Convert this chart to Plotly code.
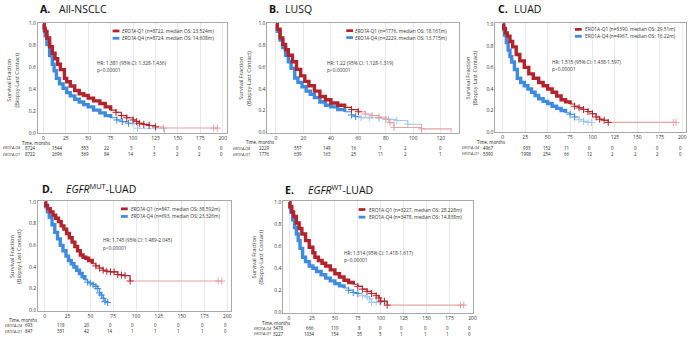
import plotly.graph_objects as go

W, H = 691, 340

# ---------------- data ----------------
# Panel A: All-NSCLC
A_q1_t = [0, 1, 2, 4, 7, 10, 13, 16, 19, 23.5, 26, 30, 35, 40, 45, 50, 56, 63, 69, 75, 81, 87, 93, 100, 104, 107, 112, 118, 125, 134, 190, 194]
A_q1_s = [1.0, 0.96, 0.93, 0.87, 0.79, 0.73, 0.68, 0.63, 0.58, 0.50, 0.47, 0.43, 0.39, 0.36, 0.345, 0.32, 0.295, 0.27, 0.24, 0.21, 0.19, 0.16, 0.14, 0.12, 0.105, 0.09, 0.08, 0.07, 0.057, 0.046, 0.046, 0.046]
A_q4_t = [0, 1, 2, 4, 7, 10, 12, 14.6, 18, 22, 26, 30, 35, 40, 45, 50, 56, 63, 69, 75, 82, 88, 95, 100, 105, 135]
A_q4_s = [1.0, 0.94, 0.89, 0.81, 0.71, 0.63, 0.57, 0.50, 0.45, 0.41, 0.37, 0.34, 0.31, 0.285, 0.26, 0.24, 0.21, 0.185, 0.16, 0.14, 0.12, 0.105, 0.09, 0.085, 0.045, 0.0]
A_ticks = [0, 25, 50, 75, 100, 125, 150, 175, 200]
A_risk_q4 = [8724, 1544, 353, 22, 3, 1, 0, 0, 0]
A_risk_q1 = [8722, 2696, 369, 84, 14, 3, 2, 2, 0]

# Panel B: LUSQ
B_q1_t = [0, 1, 3, 5, 7, 9, 12, 15, 18, 21, 24, 28, 32, 36, 40, 45, 50, 55, 60, 65, 70, 75, 80, 83, 86, 106, 127.5]
B_q1_s = [1.0, 0.95, 0.87, 0.81, 0.76, 0.71, 0.65, 0.58, 0.52, 0.47, 0.43, 0.38, 0.33, 0.30, 0.27, 0.25, 0.23, 0.21, 0.19, 0.17, 0.155, 0.14, 0.12, 0.09, 0.045, 0.033, 0.0]
B_q4_t = [0, 1, 3, 5, 7, 9, 11, 13.7, 16, 19, 22, 25, 28, 32, 36, 40, 45, 50, 55, 58, 62, 68, 75, 82, 88, 96, 106]
B_q4_s = [1.0, 0.93, 0.85, 0.78, 0.71, 0.65, 0.59, 0.50, 0.46, 0.42, 0.38, 0.35, 0.32, 0.28, 0.25, 0.235, 0.21, 0.19, 0.16, 0.145, 0.135, 0.135, 0.13, 0.12, 0.11, 0.075, 0.0]
B_ticks = [0, 20, 40, 60, 80, 100, 120]
B_risk_q4 = [2229, 557, 149, 16, 7, 2, 0]
B_risk_q1 = [1776, 639, 163, 25, 11, 2, 1]

# Panel C: LUAD
C_q1_t = [0, 1, 3, 5, 8, 11, 15, 19, 24, 29, 34, 40, 45, 50, 55, 60, 65, 70, 75, 80, 85, 90, 95, 100, 104, 108, 113, 117.5, 190, 193]
C_q1_s = [1.0, 0.96, 0.92, 0.89, 0.84, 0.79, 0.72, 0.66, 0.60, 0.54, 0.50, 0.46, 0.43, 0.40, 0.37, 0.335, 0.30, 0.28, 0.26, 0.24, 0.225, 0.21, 0.19, 0.17, 0.14, 0.12, 0.11, 0.09, 0.09, 0.09]
C_q4_t = [0, 1, 2, 4, 6, 8, 10, 13, 16.2, 20, 24, 28, 32, 36, 40, 45, 50, 55, 60, 65, 70, 75, 80, 85, 90, 95, 99]
C_q4_s = [1.0, 0.95, 0.90, 0.83, 0.76, 0.70, 0.65, 0.58, 0.50, 0.46, 0.43, 0.40, 0.37, 0.34, 0.31, 0.285, 0.265, 0.24, 0.22, 0.20, 0.18, 0.165, 0.14, 0.115, 0.10, 0.09, 0.09]
C_ticks = [0, 25, 50, 75, 100, 125, 150, 175, 200]
C_risk_q4 = [4967, 933, 152, 11, 0, 0, 0, 0, 0]
C_risk_q1 = [5390, 1998, 254, 66, 12, 2, 2, 2, 0]

# Panel D: EGFR-MUT LUAD
D_q1_t = [0, 1, 3, 6, 9, 12, 15, 18, 21, 24, 27, 30, 33, 36, 39, 42, 45, 48, 52, 56, 60, 64, 68, 72, 76, 80, 84, 88, 93.5, 190, 194]
D_q1_s = [1.0, 0.97, 0.94, 0.91, 0.88, 0.85, 0.82, 0.78, 0.75, 0.71, 0.67, 0.63, 0.59, 0.55, 0.51, 0.49, 0.48, 0.46, 0.43, 0.41, 0.39, 0.37, 0.36, 0.355, 0.355, 0.33, 0.325, 0.32, 0.27, 0.27, 0.27]
D_q4_t = [0, 1, 3, 5, 8, 11, 14, 17, 20, 23.3, 26, 29, 32, 35, 38, 41, 44, 47, 50, 53, 56, 58, 60, 62, 64, 66, 69]
D_q4_s = [1.0, 0.96, 0.91, 0.86, 0.79, 0.72, 0.66, 0.60, 0.55, 0.50, 0.46, 0.43, 0.40, 0.37, 0.34, 0.31, 0.28, 0.26, 0.25, 0.235, 0.22, 0.20, 0.16, 0.14, 0.11, 0.08, 0.07]
D_ticks = [0, 25, 50, 75, 100, 125, 150, 175, 200]
D_risk_q4 = [693, 118, 20, 0, 0, 0, 0, 0, 0]
D_risk_q1 = [847, 331, 42, 14, 1, 1, 1, 1, 0]

# Panel E: EGFR-WT LUAD
E_q1_t = [0, 1, 3, 5, 8, 11, 14, 18, 22, 26, 28.2, 32, 36, 40, 45, 50, 55, 60, 65, 70, 75, 80, 85, 90, 95, 98, 100, 104, 107, 187, 190.5]
E_q1_s = [1.0, 0.96, 0.91, 0.87, 0.81, 0.76, 0.71, 0.65, 0.59, 0.54, 0.50, 0.47, 0.445, 0.42, 0.385, 0.35, 0.32, 0.29, 0.27, 0.255, 0.235, 0.21, 0.19, 0.17, 0.15, 0.13, 0.10, 0.10, 0.065, 0.065, 0.065]
E_q4_t = [0, 1, 2, 4, 6, 8, 10, 12, 14.8, 18, 22, 26, 30, 35, 40, 45, 50, 55, 60, 65, 70, 75, 80, 85, 88, 90, 95, 99]
E_q4_s = [1.0, 0.95, 0.91, 0.84, 0.77, 0.71, 0.65, 0.58, 0.50, 0.46, 0.42, 0.40, 0.37, 0.34, 0.31, 0.285, 0.26, 0.24, 0.22, 0.20, 0.18, 0.17, 0.15, 0.14, 0.12, 0.09, 0.09, 0.09]
E_ticks = [0, 25, 50, 75, 100, 125, 150, 175, 200]
E_risk_q4 = [3478, 666, 110, 8, 0, 0, 0, 0, 0]
E_risk_q1 = [3227, 1034, 154, 35, 5, 1, 1, 1, 0]

# ---------------- style ----------------
RED, RED_L = "#b3232b", "#e5a3a6"
BLUE, BLUE_L = "#3f8be0", "#a3c8f0"
FONT = "Open Sans"
TXT = "#333333"


def fx(p):
    return p / W


def fy(p):
    return 1 - p / H


panels = [
    dict(letter="A.", name="All-NSCLC", q1=(A_q1_t, A_q1_s), q4=(A_q4_t, A_q4_s), ticks=A_ticks,
         rq4=A_risk_q4, rq1=A_risk_q1,
         q1_lab="(n=8722, median OS: 23.524m)", q4_lab="(n=8724, median OS: 14.608m)", ital=True,
         hr="HR: 1.381 (95% CI: 1.328-1.436)",
         box=(38, 228, 21, 133), xr=(-6.2, 204.4),
         q1_style=(78, 125), q4_style=(75, 90),
         title_xy=(38, 57, 7), ytitle=(12.5, 79), leg=(113.3, 120.7, 29.3, 36.7), hrxy=(96, 62, 69.3),
         rows=(1.5, 147.7, 154), tm=(36, 142.4), rx=[31, 58, 85, 108, 132, 155, 179, 201, 223]),
    dict(letter="B.", name="LUSQ", q1=(B_q1_t, B_q1_s), q4=(B_q4_t, B_q4_s), ticks=B_ticks,
         rq4=B_risk_q4, rq1=B_risk_q1,
         q1_lab="(n=1776, median OS: 18.161m)", q4_lab="(n=2229, median OS: 13.715m)", ital=True,
         hr="HR: 1.22 (95% CI: 1.128-1.319)",
         box=(269, 461.7, 21, 132.3), xr=(-6.2, 133.3),
         q1_style=(50, 60), q4_style=(50, 58),
         title_xy=(268.3, 285, 7), ytitle=(246, 77), leg=(348.3, 355.3, 29, 36), hrxy=(326.7, 61.7, 69),
         rows=(232, 147.8, 154), tm=(262, 141.6), rx=[266, 300, 329, 356, 382.7, 408.3, 443.3]),
    dict(letter="C.", name="LUAD", q1=(C_q1_t, C_q1_s), q4=(C_q4_t, C_q4_s), ticks=C_ticks,
         rq4=C_risk_q4, rq1=C_risk_q1,
         q1_lab="(n=5390, median OS: 29.51m)", q4_lab="(n=4967, median OS: 16.22m)", ital=False,
         hr="HR: 1.515 (95% CI: 1.438-1.597)",
         box=(498.3, 690, 21.5, 132), xr=(-8.2, 204.2),
         q1_style=(75, 117.5), q4_style=(70, 80),
         title_xy=(499, 515, 7), ytitle=(474, 77), leg=(578.3, 586, 27.7, 34.7), hrxy=(552.7, 61, 68.3),
         rows=(463, 147.5, 153.8), tm=(493.7, 141.6), rx=[491, 530, 550, 570, 593.3, 615.7, 639.3, 661.7, 684]),
    dict(letter="D.", name="<i>EGFR</i><sup>MUT</sup>-LUAD", q1=(D_q1_t, D_q1_s), q4=(D_q4_t, D_q4_s), ticks=D_ticks,
         rq4=D_risk_q4, rq1=D_risk_q1,
         q1_lab="(n=847, median OS: 38.592m)", q4_lab="(n=693, median OS: 23.326m)", ital=True,
         hr="HR: 1.745 (95% CI: 1.489-2.045)",
         box=(38.3, 232.3, 201.5, 312.2), xr=(-7.3, 204),
         q1_style=(52, 93.5), q4_style=(44, 200),
         title_xy=(40, 64.3, 189), ytitle=(16, 257), leg=(121.7, 130, 209.3, 217), hrxy=(101.7, 241, 248.7),
         rows=(3.5, 327.3, 333.3), tm=(23, 321.6), rx=[29, 61.7, 87.3, 111, 133.3, 156.7, 180, 203.3, 226.7]),
    dict(letter="E.", name="<i>EGFR</i><sup>WT</sup>-LUAD", q1=(E_q1_t, E_q1_s), q4=(E_q4_t, E_q4_s), ticks=E_ticks,
         rq4=E_risk_q4, rq1=E_risk_q1,
         q1_lab="(n=3227, median OS: 28.228m)", q4_lab="(n=3478, median OS: 14.838m)", ital=False,
         hr="HR: 1.514 (95% CI: 1.418-1.617)",
         box=(285, 475.5, 201.5, 314.3), xr=(-6.2, 200.3),
         q1_style=(70, 107), q4_style=(60, 75),
         title_xy=(285, 308, 190), ytitle=(259, 258), leg=(360.7, 369.3, 210, 217.7), hrxy=(344, 254.3, 261),
         rows=(253, 330, 335.6), tm=(278, 324.8), rx=[280, 311.7, 336.7, 361.7, 382.7, 404.3, 427.7, 450, 472.5]),
]

fig = go.Figure()
annotations = []
shapes = []
layout = {}


def ann(x, y, text, size, xanchor="left", yanchor="middle", angle=0, color=TXT, family=FONT):
    annotations.append(dict(x=fx(x), y=fy(y), xref="paper", yref="paper", text=text, showarrow=False,
                            xanchor=xanchor, yanchor=yanchor, textangle=angle,
                            font=dict(size=size, color=color, family=family), align="center"))


def add_curve(i, t, s, color, light_color, dense_until, light_from):
    xa, ya = ("x" if i == 1 else f"x{i}"), ("y" if i == 1 else f"y{i}")
    n = len(t)
    idx = next((k for k, v in enumerate(t) if v >= light_from), n - 1)
    dark_t, dark_s = list(t[:idx + 1]), list(s[:idx + 1])
    light_t, light_s = list(t[idx:]), list(s[idx:])
    common = dict(xaxis=xa, yaxis=ya, showlegend=False, hoverinfo="skip")
    # light tail
    if len(light_t) > 1:
        fig.add_trace(go.Scatter(x=light_t, y=light_s, mode="lines", line=dict(color=light_color, width=1.1, shape="hv"), **common))
        mk = [(a, b) for a, b in zip(light_t[1:], light_s[1:]) if b > 0]
        if mk:
            fig.add_trace(go.Scatter(x=[m[0] for m in mk], y=[m[1] for m in mk], mode="markers",
                                     marker=dict(symbol="cross-thin", size=5, line=dict(width=1, color=light_color)), **common))
    # dark curve
    fig.add_trace(go.Scatter(x=dark_t, y=dark_s, mode="lines", line=dict(color=color, width=1.1, shape="hv"), **common))
    dense = [(a, b) for a, b in zip(dark_t, dark_s) if a <= dense_until]
    fig.add_trace(go.Scatter(x=[d[0] for d in dense], y=[d[1] for d in dense], mode="lines",
                             line=dict(color=color, width=3.4, shape="hv"), **common))
    mk = [(a, b) for a, b in zip(dark_t, dark_s) if a > dense_until and b > 0]
    if mk:
        fig.add_trace(go.Scatter(x=[m[0] for m in mk], y=[m[1] for m in mk], mode="markers",
                                 marker=dict(symbol="cross-thin", size=5, line=dict(width=1, color=color)), **common))


for i, p in enumerate(panels, start=1):
    x0, x1, y0, y1 = p["box"]
    xkey = "xaxis" if i == 1 else f"xaxis{i}"
    ykey = "yaxis" if i == 1 else f"yaxis{i}"
    yanchor_name = "y" if i == 1 else f"y{i}"
    xanchor_name = "x" if i == 1 else f"x{i}"
    layout[xkey] = dict(domain=[fx(x0), fx(x1)], range=list(p["xr"]), anchor=yanchor_name,
                        tickvals=p["ticks"], ticktext=[str(v) for v in p["ticks"]],
                        showgrid=True, gridcolor="#e3e3e3", gridwidth=0.8, zeroline=False,
                        showline=True, mirror=True, linecolor="#a8a8a8", linewidth=1,
                        tickfont=dict(size=5, color=TXT, family=FONT), ticks="", ticklen=0)
    layout[ykey] = dict(domain=[fy(y1), fy(y0)], range=[-0.003, 1.0 + 1.0 / (y1 - y0)],
                        anchor=xanchor_name, tickvals=[0, 0.2, 0.4, 0.6, 0.8, 1.0],
                        ticktext=["0.0", "0.2", "0.4", "0.6", "0.8", "1.0"],
                        showgrid=False, zeroline=False, showline=True, mirror=True,
                        linecolor="#a8a8a8", linewidth=1, tickfont=dict(size=5, color=TXT, family=FONT), ticks="")

    q1t, q1s = p["q1"]
    q4t, q4s = p["q4"]
    add_curve(i, q4t, q4s, BLUE, BLUE_L, p["q4_style"][0], p["q4_style"][1])
    add_curve(i, q1t, q1s, RED, RED_L, p["q1_style"][0], p["q1_style"][1])

    # titles
    lx, nx, ty = p["title_xy"]
    ann(lx, ty, "<b>" + p["letter"] + "</b>", 10.5, color="#111111")
    ann(nx, ty, p["name"], 10.5, color="#111111")
    # y-axis title
    yx, yy = p["ytitle"]
    ann(yx, yy, "Survival Fraction<br>(Biopsy-Last Contact)", 5.6, xanchor="center", angle=-90, color="#444444")
    # legend
    sx, tx, r1, r2 = p["leg"]
    gene = "<i>ERO1A</i>" if p["ital"] else "ERO1A"
    for (ry, col, lab) in [(r1, RED, gene + "-Q1 " + p["q1_lab"]), (r2, BLUE, gene + "-Q4 " + p["q4_lab"])]:
        shapes.append(dict(type="rect", xref="paper", yref="paper", x0=fx(sx), x1=fx(sx + 6.8),
                           y0=fy(ry + 1.4), y1=fy(ry - 1.4), fillcolor=col, line=dict(width=0)))
        ann(tx, ry, lab, 4.8, color="#333333")
    # HR
    hx, h1, h2 = p["hrxy"]
    ann(hx, h1, p["hr"], 4.8, color="#333333")
    ann(hx, h2, "p<0.00001", 4.8, color="#333333")
    # risk table
    lx0, rq4y, rq1y = p["rows"]
    tmx, tmy = p["tm"]
    ann(tmx, tmy, "Time, months", 4.4, xanchor="center", color="#222222")
    ann(lx0, rq4y, "<i>ERO1A-Q4</i>", 3.8, color="#333333")
    ann(lx0, rq1y, "<i>ERO1A-Q1</i>", 3.8, color="#333333")
    for k, xpos in enumerate(p["rx"]):
        ann(xpos, rq4y, str(p["rq4"][k]), 4.4, xanchor="center", color="#222222")
        ann(xpos, rq1y, str(p["rq1"][k]), 4.4, xanchor="center", color="#222222")

fig.update_layout(width=W, height=H, autosize=False, margin=dict(l=0, r=0, t=0, b=0),
                  paper_bgcolor="white", plot_bgcolor="white", showlegend=False,
                  annotations=annotations, shapes=shapes, font=dict(family=FONT), **layout)

fig.write_html("out.html", config={"displayModeBar": False, "staticPlot": True},
               post_script="document.body.style.margin='0';document.body.style.padding='0';")
